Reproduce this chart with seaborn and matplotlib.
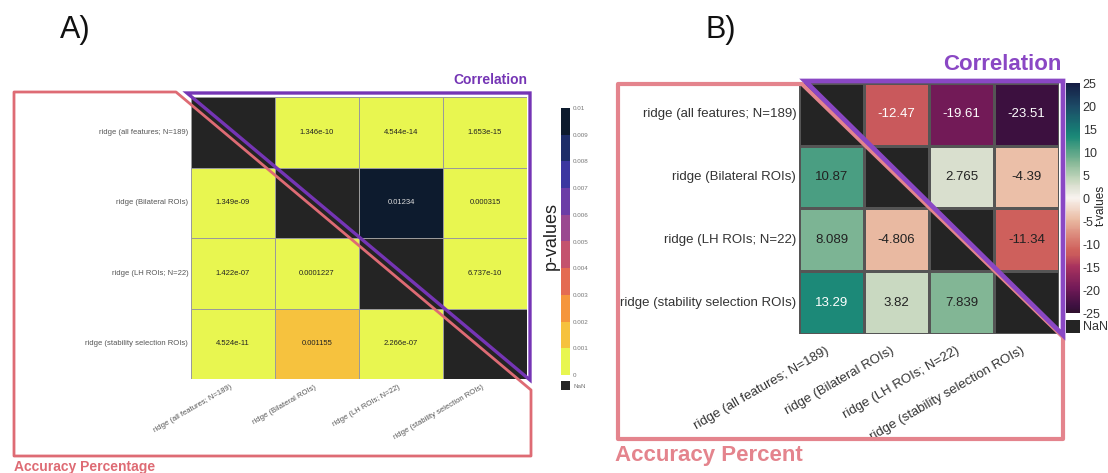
import numpy as np
import pandas as pd
import matplotlib
matplotlib.use("Agg")
import matplotlib.pyplot as plt
import matplotlib.transforms as mtrans
from matplotlib.colors import ListedColormap, LinearSegmentedColormap
from matplotlib.patches import Polygon
import seaborn as sns

# ---------------- data ----------------
models = ["ridge (all features; N=189)", "ridge (Bilateral ROIs)",
          "ridge (LH ROIs; N=22)", "ridge (stability selection ROIs)"]

# Panel A: p-values (upper triangle: correlation, lower: accuracy percentage)
p_row0 = [np.nan, 1.346e-10, 4.544e-14, 1.653e-15]
p_row1 = [1.349e-09, np.nan, 0.01234, 0.000315]
p_row2 = [1.422e-07, 0.0001227, np.nan, 6.737e-10]
p_row3 = [4.524e-11, 0.001155, 2.266e-07, np.nan]

# Panel B: t-values
t_row0 = [np.nan, -12.47, -19.61, -23.51]
t_row1 = [10.87, np.nan, 2.765, -4.39]
t_row2 = [8.089, -4.806, np.nan, -11.34]
t_row3 = [13.29, 3.82, 7.839, np.nan]

p_ticks = [0, 0.001, 0.002, 0.003, 0.004, 0.005, 0.006, 0.007, 0.008, 0.009, 0.01]
p_tick_labels = ["0", "0.001", "0.002", "0.003", "0.004", "0.005",
                 "0.006", "0.007", "0.008", "0.009", "0.01"]
t_ticks = [-25, -20, -15, -10, -5, 0, 5, 10, 15, 20, 25]

# ---------------- style ----------------
sns.set_style("white")
plt.rcParams["font.family"] = ["Liberation Sans", "DejaVu Sans"]
plt.rcParams["axes.unicode_minus"] = False

W, H = 1108, 473
fig = plt.figure(figsize=(W / 100, H / 100), dpi=100)


def box(x0, y0, x1, y1):
    return [x0 / W, 1 - y1 / H, (x1 - x0) / W, (y1 - y0) / H]


def fp(x, y):
    return (x / W, 1 - y / H)


# colormaps
cmapA = ListedColormap(["#e8f650", "#f6c23e", "#f5963c", "#e46b52", "#c4536e",
                        "#9a4890", "#6c3da6", "#3b36a0", "#1d2d68", "#0d1b2e"])
curl_pts = [(-25, "#30102f"), (-23.5, "#3d1040"), (-19.6, "#731a58"), (-15, "#a8325e"),
            (-12.5, "#c9595c"), (-11.3, "#cf615c"), (-8, "#dc8a7c"), (-4.8, "#e9b9a1"),
            (-4.4, "#ebbfa8"), (0, "#f8f3ef"), (2.8, "#dadfcf"), (3.8, "#c9d9c1"),
            (7.8, "#86b896"), (8.1, "#7db494"), (10.9, "#4a9e82"), (13.3, "#1c8a78"),
            (15, "#177a74"), (20, "#1c4a66"), (25, "#151d44")]
cmapB = LinearSegmentedColormap.from_list(
    "curl_r", [((v + 25) / 50, c) for v, c in curl_pts])

NAN_COLOR = "#242424"

# ---------------- panel A ----------------
dfA = pd.DataFrame([p_row0, p_row1, p_row2, p_row3], index=models, columns=models)
axA = fig.add_axes(box(191, 97, 527, 379))
caxA = fig.add_axes(box(561, 108, 570, 375))
sns.heatmap(dfA, ax=axA, cbar_ax=caxA, cmap=cmapA, vmin=0, vmax=0.01,
            annot=True, fmt=".4g", annot_kws={"fontsize": 5.5},
            linewidths=0.5, linecolor="#9a9a9a", cbar_kws={"ticks": p_ticks})
axA.set_facecolor(NAN_COLOR)
for t in axA.texts:
    v = float(t.get_text())
    t.set_color("#dddddd" if v > 0.006 else "#222222")
axA.tick_params(length=0, pad=2)
axA.set_yticklabels(models, rotation=0, fontsize=5.5, color="#555555")
offA = mtrans.ScaledTranslation(8 / 100, 0, fig.dpi_scale_trans)
axA.set_xticklabels(models, rotation=30, ha="right", fontsize=5.5, color="#555555")
for lab in axA.get_xticklabels():
    lab.set_transform(lab.get_transform() + offA)
axA.tick_params(axis="x", pad=3.5)
caxA.set_yticklabels(p_tick_labels)
caxA.tick_params(length=0, labelsize=4.5, labelcolor="#777777", pad=2)
axA.collections[0].colorbar.outline.set_linewidth(0)
fig.text(*fp(551, 236), "p-values", rotation=90, ha="center", va="center",
         fontsize=13, color="#222222")
nA = fig.add_axes(box(561, 381, 570, 390))
nA.set_facecolor(NAN_COLOR)
nA.set_xticks([]); nA.set_yticks([])
for s in nA.spines.values():
    s.set_visible(False)
fig.text(*fp(573, 386), "NaN", fontsize=4.5, color="#777777", va="center")

pinkA, purpA = "#de6b74", "#7535b5"
fig.add_artist(Polygon([fp(14, 92), fp(176, 92), fp(531, 390), fp(531, 456), fp(14, 456)],
                       closed=True, fill=False, edgecolor=pinkA, lw=2.0,
                       joinstyle="round", transform=fig.transFigure, zorder=5))
fig.add_artist(Polygon([fp(187, 93), fp(530, 93), fp(530, 380)],
                       closed=True, fill=False, edgecolor=purpA, lw=2.4,
                       joinstyle="miter", transform=fig.transFigure, zorder=6))
fig.text(*fp(527, 80), "Correlation", ha="right", va="center", fontsize=10,
         fontweight="bold", color=purpA)
fig.text(*fp(14, 467), "Accuracy Percentage", ha="left", va="center", fontsize=10,
         fontweight="bold", color=pinkA)
fig.text(*fp(60, 30), "A)", ha="left", va="center", fontsize=22, color="#111111")

# ---------------- panel B ----------------
dfB = pd.DataFrame([t_row0, t_row1, t_row2, t_row3], index=models, columns=models)
axB = fig.add_axes(box(799, 83, 1059, 334))
caxB = fig.add_axes(box(1066, 83, 1080, 313))
sns.heatmap(dfB, ax=axB, cbar_ax=caxB, cmap=cmapB, vmin=-25, vmax=25,
            annot=True, fmt=".4g", annot_kws={"fontsize": 9.5},
            linewidths=0.8, linecolor="#555555", cbar_kws={"ticks": t_ticks})
axB.set_facecolor(NAN_COLOR)
for t in axB.texts:
    v = float(t.get_text())
    t.set_color("white" if abs(v) > 12 else "#222222")
axB.tick_params(length=0, pad=2)
axB.set_yticklabels(models, rotation=0, fontsize=9.5, color="#333333")
offB = mtrans.ScaledTranslation(15 / 100, 0, fig.dpi_scale_trans)
axB.set_xticklabels(models, rotation=30, ha="right", fontsize=9.5, color="#333333")
for lab in axB.get_xticklabels():
    lab.set_transform(lab.get_transform() + offB)
axB.tick_params(axis="x", pad=7.5)
caxB.tick_params(length=0, labelsize=9, labelcolor="#333333", pad=2)
axB.collections[0].colorbar.outline.set_linewidth(0)
fig.text(*fp(1107, 205), "t-values", rotation=90, ha="right", va="center",
         fontsize=8.5, color="#222222")
nB = fig.add_axes(box(1066, 320, 1080, 333))
nB.set_facecolor(NAN_COLOR)
nB.set_xticks([]); nB.set_yticks([])
for s in nB.spines.values():
    s.set_visible(False)
fig.text(*fp(1083, 327), "NaN", fontsize=9, color="#333333", va="center")

pinkB, purpB = "#e4848d", "#8a47c4"
fig.add_artist(Polygon([fp(618, 84), fp(802, 84), fp(1063, 337), fp(1063, 439), fp(618, 439)],
                       closed=True, fill=False, edgecolor=pinkB, lw=3.0,
                       joinstyle="round", transform=fig.transFigure, zorder=5))
fig.add_artist(Polygon([fp(805, 81), fp(1063, 81), fp(1063, 335)],
                       closed=True, fill=False, edgecolor=purpB, lw=3.4,
                       joinstyle="miter", transform=fig.transFigure, zorder=6))
fig.text(*fp(1062, 65), "Correlation", ha="right", va="center", fontsize=16,
         fontweight="bold", color=purpB)
fig.text(*fp(615, 455), "Accuracy Percent", ha="left", va="center", fontsize=16,
         fontweight="bold", color=pinkB)
fig.text(*fp(705, 30), "B)", ha="left", va="center", fontsize=22, color="#111111")

fig.savefig("out.png", dpi=100)
